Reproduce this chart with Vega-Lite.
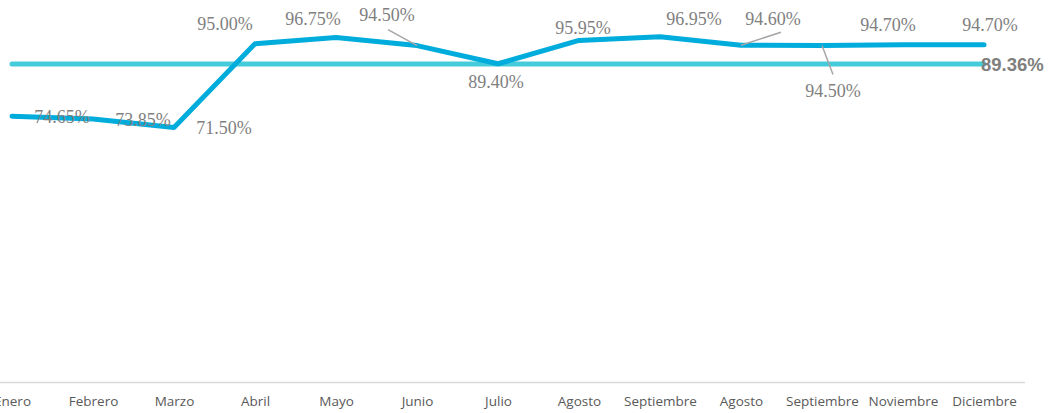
{
  "$schema": "https://vega.github.io/schema/vega-lite/v6.json",
  "width": 1052,
  "height": 356,
  "autosize": "none",
  "padding": {"left": 0, "top": 26, "right": 0, "bottom": 31},
  "background": "white",
  "config": {"view": {"stroke": null}},
  "data": {
    "values": [
      {"mes": "Enero", "valor": 0.7465, "promedio": 0.8936},
      {"mes": "Febrero", "valor": 0.7385, "promedio": 0.8936},
      {"mes": "Marzo", "valor": 0.715, "promedio": 0.8936},
      {"mes": "Abril", "valor": 0.95, "promedio": 0.8936},
      {"mes": "Mayo", "valor": 0.9675, "promedio": 0.8936},
      {"mes": "Junio", "valor": 0.945, "promedio": 0.8936},
      {"mes": "Julio", "valor": 0.894, "promedio": 0.8936},
      {"mes": "Agosto", "valor": 0.9595, "promedio": 0.8936},
      {"mes": "Septiembre", "valor": 0.9695, "promedio": 0.8936},
      {"mes": "Agosto ", "valor": 0.946, "promedio": 0.8936},
      {"mes": "Septiembre ", "valor": 0.945, "promedio": 0.8936},
      {"mes": "Noviembre", "valor": 0.947, "promedio": 0.8936},
      {"mes": "Diciembre", "valor": 0.947, "promedio": 0.8936}
    ]
  },
  "encoding": {
    "x": {
      "field": "mes",
      "type": "ordinal",
      "sort": null,
      "scale": {"type": "point", "padding": 0.5, "range": [-28.5, 1024.5]},
      "axis": {
        "title": null,
        "ticks": false,
        "grid": false,
        "labelAngle": 0,
        "labelPadding": 12,
        "labelFont": "Open Sans",
        "labelFontSize": 13.5,
        "labelColor": "#595959",
        "labelOverlap": false,
        "labelBound": false,
        "labelFlush": false,
        "domainColor": "#D9D9D9",
        "domainWidth": 1.5
      }
    },
    "y": {"field": "valor", "type": "quantitative", "scale": {"domain": [0, 1]}, "axis": null}
  },
  "layer": [
    {
      "mark": {"type": "line", "color": "#46CBDA", "strokeWidth": 5, "strokeCap": "round"},
      "encoding": {"y": {"field": "promedio", "type": "quantitative"}}
    },
    {
      "mark": {"type": "line", "color": "#00ACDC", "strokeWidth": 5, "strokeCap": "round", "strokeJoin": "round"},
      "encoding": {}
    },
    {
      "transform": [{"filter": {"field": "mes", "equal": "Junio"}}],
      "mark": {"type": "rule", "color": "#A6A6A6", "strokeWidth": 1.5, "x2Offset": -29, "y2Offset": -16},
      "encoding": {"x2": {"field": "mes"}, "y2": {"field": "valor"}}
    },
    {
      "transform": [{"filter": {"field": "mes", "equal": "Agosto "}}],
      "mark": {"type": "rule", "color": "#A6A6A6", "strokeWidth": 1.5, "x2Offset": 40, "y2Offset": -13},
      "encoding": {"x2": {"field": "mes"}, "y2": {"field": "valor"}}
    },
    {
      "transform": [{"filter": {"field": "mes", "equal": "Septiembre "}}],
      "mark": {"type": "rule", "color": "#A6A6A6", "strokeWidth": 1.5, "x2Offset": 11, "y2Offset": 29},
      "encoding": {"x2": {"field": "mes"}, "y2": {"field": "valor"}}
    },
    {
      "transform": [{"filter": {"field": "mes", "oneOf": ["Enero", "Febrero", "Marzo"]}}],
      "mark": {"type": "text", "font": "Liberation Serif", "fontSize": 18, "color": "#7F7F7F", "baseline": "middle", "align": "center", "dx": 50, "dy": 2},
      "encoding": {"text": {"field": "valor", "type": "quantitative", "format": ".2%"}}
    },
    {
      "transform": [{"filter": {"field": "mes", "equal": "Abril"}}],
      "mark": {"type": "text", "font": "Liberation Serif", "fontSize": 18, "color": "#7F7F7F", "baseline": "middle", "align": "center", "dx": -30, "dy": -19},
      "encoding": {"text": {"field": "valor", "type": "quantitative", "format": ".2%"}}
    },
    {
      "transform": [{"filter": {"field": "mes", "equal": "Mayo"}}],
      "mark": {"type": "text", "font": "Liberation Serif", "fontSize": 18, "color": "#7F7F7F", "baseline": "middle", "align": "center", "dx": -23, "dy": -18},
      "encoding": {"text": {"field": "valor", "type": "quantitative", "format": ".2%"}}
    },
    {
      "transform": [{"filter": {"field": "mes", "equal": "Junio"}}],
      "mark": {"type": "text", "font": "Liberation Serif", "fontSize": 18, "color": "#7F7F7F", "baseline": "middle", "align": "center", "dx": -30, "dy": -30},
      "encoding": {"text": {"field": "valor", "type": "quantitative", "format": ".2%"}}
    },
    {
      "transform": [{"filter": {"field": "mes", "equal": "Julio"}}],
      "mark": {"type": "text", "font": "Liberation Serif", "fontSize": 18, "color": "#7F7F7F", "baseline": "middle", "align": "center", "dx": -2, "dy": 19},
      "encoding": {"text": {"field": "valor", "type": "quantitative", "format": ".2%"}}
    },
    {
      "transform": [{"filter": {"field": "mes", "equal": "Agosto"}}],
      "mark": {"type": "text", "font": "Liberation Serif", "fontSize": 18, "color": "#7F7F7F", "baseline": "middle", "align": "center", "dx": 4, "dy": -11},
      "encoding": {"text": {"field": "valor", "type": "quantitative", "format": ".2%"}}
    },
    {
      "transform": [{"filter": {"field": "mes", "equal": "Septiembre"}}],
      "mark": {"type": "text", "font": "Liberation Serif", "fontSize": 18, "color": "#7F7F7F", "baseline": "middle", "align": "center", "dx": 34, "dy": -17},
      "encoding": {"text": {"field": "valor", "type": "quantitative", "format": ".2%"}}
    },
    {
      "transform": [{"filter": {"field": "mes", "equal": "Agosto "}}],
      "mark": {"type": "text", "font": "Liberation Serif", "fontSize": 18, "color": "#7F7F7F", "baseline": "middle", "align": "center", "dx": 32, "dy": -25},
      "encoding": {"text": {"field": "valor", "type": "quantitative", "format": ".2%"}}
    },
    {
      "transform": [{"filter": {"field": "mes", "equal": "Septiembre "}}],
      "mark": {"type": "text", "font": "Liberation Serif", "fontSize": 18, "color": "#7F7F7F", "baseline": "middle", "align": "center", "dx": 11, "dy": 46},
      "encoding": {"text": {"field": "valor", "type": "quantitative", "format": ".2%"}}
    },
    {
      "transform": [{"filter": {"field": "mes", "equal": "Noviembre"}}],
      "mark": {"type": "text", "font": "Liberation Serif", "fontSize": 18, "color": "#7F7F7F", "baseline": "middle", "align": "center", "dx": -15, "dy": -19},
      "encoding": {"text": {"field": "valor", "type": "quantitative", "format": ".2%"}}
    },
    {
      "transform": [{"filter": {"field": "mes", "equal": "Diciembre"}}],
      "mark": {"type": "text", "font": "Liberation Serif", "fontSize": 18, "color": "#7F7F7F", "baseline": "middle", "align": "center", "dx": 6, "dy": -19},
      "encoding": {"text": {"field": "valor", "type": "quantitative", "format": ".2%"}}
    },
    {
      "transform": [{"filter": {"field": "mes", "equal": "Diciembre"}}],
      "mark": {"type": "text", "font": "Liberation Sans", "fontWeight": "bold", "fontSize": 18.5, "color": "#7F7F7F", "baseline": "middle", "align": "left", "dx": -3, "dy": 1},
      "encoding": {
        "y": {"field": "promedio", "type": "quantitative"},
        "text": {"field": "promedio", "type": "quantitative", "format": ".2%"}
      }
    }
  ]
}
